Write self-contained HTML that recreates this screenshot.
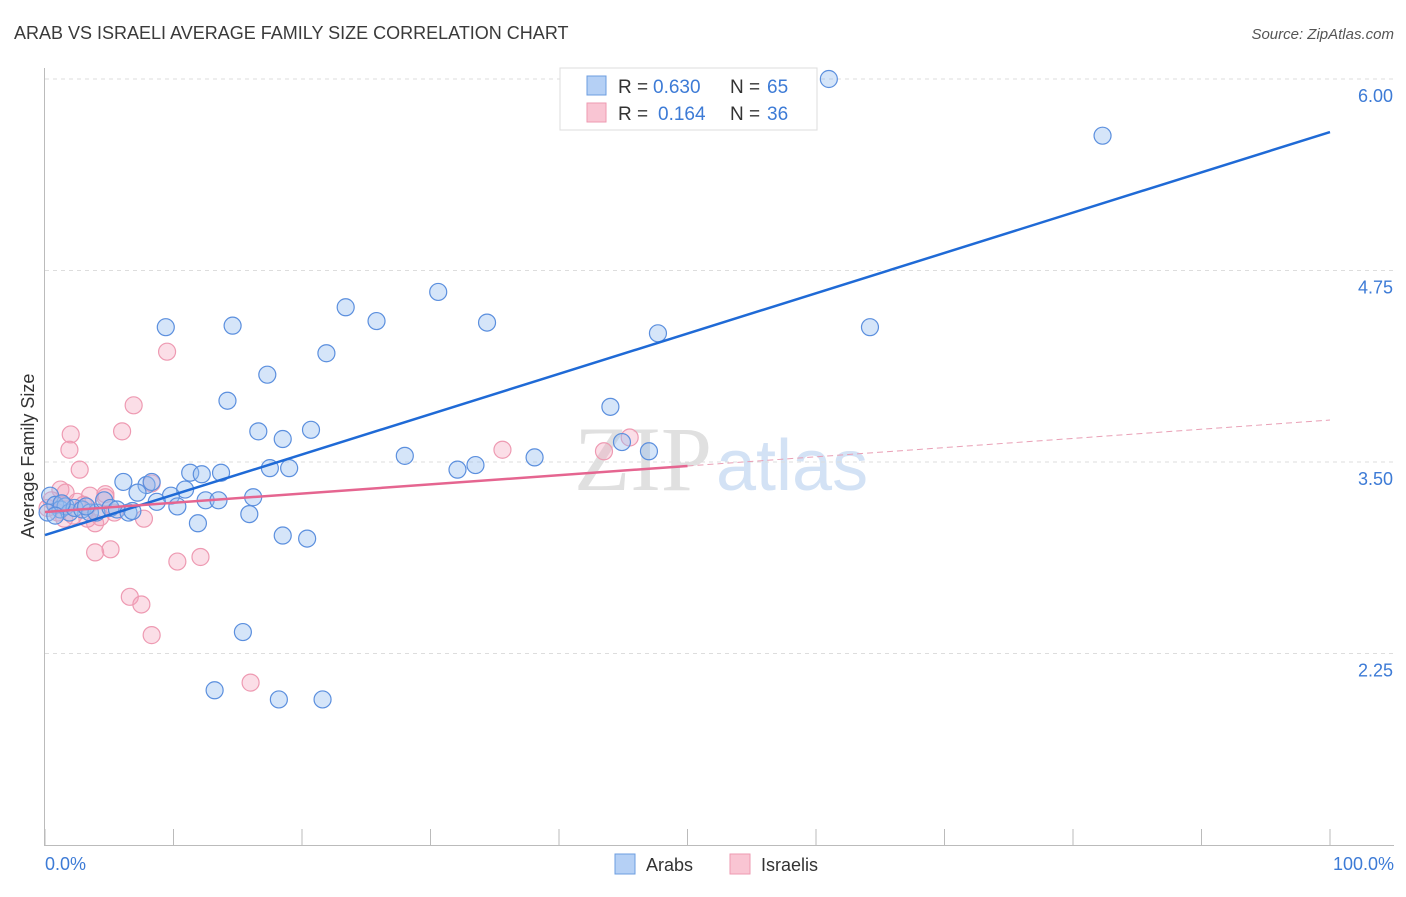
<!DOCTYPE html>
<html><head><meta charset="utf-8"><style>
body{margin:0;background:#fff;font-family:"Liberation Sans",sans-serif}
</style></head><body>
<svg id="c" width="1406" height="892" viewBox="0 0 1406 892" xmlns="http://www.w3.org/2000/svg">
<text x="14" y="39" font-size="18" fill="#3a3a3a">ARAB VS ISRAELI AVERAGE FAMILY SIZE CORRELATION CHART</text>
<text x="1394" y="39" font-size="15" fill="#555" font-style="italic" text-anchor="end">Source: ZipAtlas.com</text>
<text x="712" y="490" font-size="92" fill="#e0e0e0" font-family="Liberation Serif,serif" text-anchor="end">ZIP</text>
<text x="716" y="490" font-size="72" fill="#d3e2f5" text-anchor="start">atlas</text>
<g id="grid"></g><g id="axes"></g><g id="pts"></g><g id="lines"></g>
<text transform="translate(34,456) rotate(-90)" font-size="18" fill="#333" text-anchor="middle">Average Family Size</text>
<text x="45" y="870" font-size="18" fill="#3d7bd6">0.0%</text>
<text x="1394" y="870" font-size="18" fill="#3d7bd6" text-anchor="end">100.0%</text>
<g>
<rect x="560" y="68" width="257" height="62" fill="#fff" stroke="#ddd"/>
<rect x="587" y="76" width="19" height="19" fill="#b5d0f5" stroke="#6c9ee0"/>
<rect x="587" y="103" width="19" height="19" fill="#f9c5d3" stroke="#ee9ab2"/>
<text x="618" y="93" font-size="19" fill="#333">R =</text>
<text x="653" y="93" font-size="19" fill="#3d7bd6">0.630</text>
<text x="730" y="93" font-size="19" fill="#333">N =</text>
<text x="767" y="93" font-size="19" fill="#3d7bd6">65</text>
<text x="618" y="120" font-size="19" fill="#333">R =</text>
<text x="658" y="120" font-size="19" fill="#3d7bd6">0.164</text>
<text x="730" y="120" font-size="19" fill="#333">N =</text>
<text x="767" y="120" font-size="19" fill="#3d7bd6">36</text>
</g>
<g>
<rect x="615" y="854" width="20" height="20" fill="#b5d0f5" stroke="#6c9ee0"/>
<text x="646" y="871" font-size="18" fill="#333">Arabs</text>
<rect x="730" y="854" width="20" height="20" fill="#f9c5d3" stroke="#ee9ab2"/>
<text x="761" y="871" font-size="18" fill="#333">Israelis</text>
</g>
</svg>
<script>
const yTicks=[2.25,3.50,4.75,6.00];
const yTickLabels=["2.25","3.50","4.75","6.00"];
const arabX=[61.0,82.3,30.6,23.4,25.8,34.4,9.4,14.6,47.7,64.2,21.9,17.3,14.2,44.0,16.6,20.7,18.5,28.0,38.1,44.9,47.0,33.5,32.1,17.5,19.0,11.3,12.2,13.7,6.1,7.9,8.3,10.9,7.2,9.8,16.2,8.7,12.5,13.5,10.3,15.9,11.9,18.5,20.4,15.4,13.2,18.2,21.6,0.4,0.8,1.2,1.6,1.9,2.3,2.9,3.5,4.0,4.6,5.1,5.6,6.5,6.8,0.2,1.3,3.2,0.8];
const arabY=[6.00,5.63,4.61,4.51,4.42,4.41,4.38,4.39,4.34,4.38,4.21,4.07,3.90,3.86,3.70,3.71,3.65,3.54,3.53,3.63,3.57,3.48,3.45,3.46,3.46,3.43,3.42,3.43,3.37,3.35,3.37,3.32,3.30,3.28,3.27,3.24,3.25,3.25,3.21,3.16,3.10,3.02,3.00,2.39,2.01,1.95,1.95,3.28,3.22,3.19,3.21,3.17,3.20,3.19,3.17,3.17,3.25,3.20,3.19,3.17,3.18,3.17,3.23,3.21,3.15];
const isrX=[9.5,6.9,6.0,2.0,1.9,2.7,35.6,43.5,45.5,8.3,1.2,1.6,4.7,3.5,2.5,4.7,7.7,3.9,3.3,5.1,3.9,10.3,12.1,6.6,7.5,8.3,16.0,0.5,1.0,0.2,1.5,2.2,5.4,4.3,3.0,1.3];
const isrY=[4.22,3.87,3.70,3.68,3.58,3.45,3.58,3.57,3.66,3.36,3.32,3.30,3.29,3.28,3.24,3.27,3.13,3.10,3.13,2.93,2.91,2.85,2.88,2.62,2.57,2.37,2.06,3.25,3.17,3.20,3.13,3.15,3.17,3.14,3.22,3.22];
const arabTrend=[3.023,5.654];
const isrTrend=[3.174,3.474,3.774];
const X=v=>45+v*12.85, Y=v=>462-(v-3.5)*153.2;
const NS="http://www.w3.org/2000/svg";
function mk(t,a,p){const e=document.createElementNS(NS,t);for(const k in a)e.setAttribute(k,a[k]);document.getElementById(p).appendChild(e);return e;}
yTicks.forEach((t,i)=>{
 const l=mk('line',{x1:45,x2:1394,y1:Y(t),y2:Y(t),stroke:'#ddd','stroke-dasharray':'4,4'},'grid');
 
 
 const tx=mk('text',{x:1393,y:Y(t)+23,'font-size':18,fill:'#3d7bd6','text-anchor':'end'},'grid');
 tx.textContent=yTickLabels[i];
 
 
});
let a=mk('line',{x1:44.5,x2:44.5,y1:68,y2:845,stroke:'#bbb'},'axes');


a=mk('line',{x1:44,x2:1394,y1:845.5,y2:845.5,stroke:'#bbb'},'axes');


for(let i=0;i<=10;i++){const t=mk('line',{x1:X(i*10),x2:X(i*10),y1:829,y2:845,stroke:'#bbb'},'axes');
 
 }
isrX.forEach((v,i)=>{const c=mk('circle',{cx:X(v),cy:Y(isrY[i]),r:8.5,fill:'rgba(244,160,185,0.35)',stroke:'#ee9ab2','stroke-width':1.2},'pts');
 
 });
arabX.forEach((v,i)=>{const c=mk('circle',{cx:X(v),cy:Y(arabY[i]),r:8.5,fill:'rgba(150,190,240,0.4)',stroke:'#5b8fde','stroke-width':1.2},'pts');
 
 });
let ln=mk('line',{x1:X(0),y1:Y(arabTrend[0]),x2:X(100),y2:Y(arabTrend[1]),stroke:'#1f6ad6','stroke-width':2.5},'lines');


ln=mk('line',{x1:X(0),y1:Y(isrTrend[0]),x2:X(50),y2:Y(isrTrend[1]),stroke:'#e56590','stroke-width':2.5},'lines');


ln=mk('line',{x1:X(50),y1:Y(isrTrend[1]),x2:X(100),y2:Y(isrTrend[2]),stroke:'#e9a0b6','stroke-width':1,'stroke-dasharray':'6,4'},'lines');


</script>
</body></html>
